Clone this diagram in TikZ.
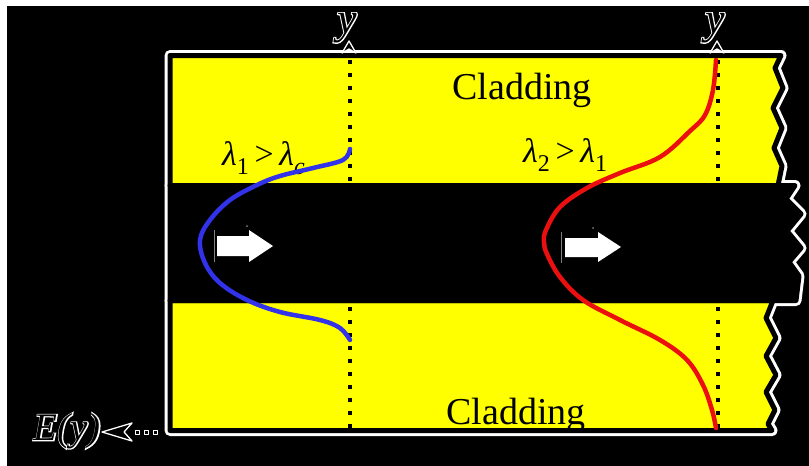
\documentclass[tikz,border=0pt]{standalone}
\usepackage{fontspec}
\setmainfont{Liberation Serif}
\newfontfamily\halofont[FakeBold=5]{Liberation Serif Italic}
\newfontfamily\plainit{Liberation Serif Italic}
\newcommand{\halotext}[1]{\makebox[0pt][l]{\color{white}\halofont #1}{\color{black}\plainit #1}}
\definecolor{clad}{RGB}{255,255,0}
\definecolor{bluecurve}{RGB}{50,50,235}
\definecolor{redcurve}{RGB}{235,15,15}
\tikzset{
  halo/.style={draw=white,line width=11pt,line join=round},
  edge/.style={draw=black,line width=5pt,line join=round},
  dots/.style={black,line width=4pt,dash pattern=on 4pt off 9pt},
  cladtext/.style={font=\fontsize{38}{40}\selectfont,text=black,inner sep=0pt},
  lamtext/.style={font=\fontsize{34}{36}\selectfont,text=black,inner sep=0pt},
  axtext/.style={font=\fontsize{44}{46}\selectfont,inner sep=0pt},
  eytext/.style={font=\fontsize{39}{41}\selectfont,inner sep=0pt},
  tipstyle/.style={fill=black,draw=white,line width=1.3pt,line join=round},
  blockarrow/.style={fill=white,draw=none},
  curve/.style={line width=4.5pt,line cap=round,line join=round}
}
\begin{document}
\begin{tikzpicture}[x=1pt,y=-1pt]
\useasboundingbox (0,0) rectangle (809,466);
\fill[white] (0,0) rectangle (809,466);
\fill[black] (7,6) rectangle (809,466);
% outlines
\def\topclad{(170,55.5) -- (781,55.5) -- (775,68) -- (783,88) -- (773,108) -- (782,128) -- (774,148) -- (782,166) -- (778,185.5) -- (170,185.5) -- cycle}
\def\core{(170,185.5) -- (795,185.5) -- (786,199) -- (801,214) -- (787,231) -- (801,248) -- (789,262) -- (799,276) -- (796,300.5) -- (170,300.5) -- cycle}
\def\botclad{(170,300.5) -- (773,300.5) -- (766,318) -- (776,338) -- (766,356) -- (776,375) -- (766,392) -- (775,410) -- (768,424) -- (772,430.5) -- (170,430.5) -- cycle}
\path[halo] \topclad;
\path[halo] \core;
\path[halo] \botclad;
\fill[black] \core;
\fill[clad] \topclad;
\fill[clad] \botclad;
% texts in cladding
\node[cladtext,anchor=base] (cladtop) at (522,99) {Cladding};
\node[cladtext,anchor=base] (cladbot) at (516,424) {Cladding};
\node[lamtext,anchor=base west] (lam1) at (222,165) {\textit{λ}\raisebox{-0.28em}{\fontsize{24}{24}\selectfont 1}\,>\,\textit{λ}\raisebox{-0.28em}{\fontsize{24}{24}\selectfont\itshape c}};
\node[lamtext,anchor=base west] (lam2) at (523,162) {\textit{λ}\raisebox{-0.28em}{\fontsize{24}{24}\selectfont 2}\,>\,\textit{λ}\raisebox{-0.28em}{\fontsize{24}{24}\selectfont 1}};
% borders
\path[edge] \topclad;
\path[edge] \core;
\path[edge] \botclad;
% dotted lines
\coordinate (d1top) at (350,60);
\coordinate (d1bot) at (350,430);
\coordinate (d2top) at (718,60);
\coordinate (d2bot) at (718,430);
\draw[dots] (d1top) -- (d1bot);
\draw[dots] (d2top) -- (d2bot);
% curves
\draw[curve,bluecurve] plot[smooth,tension=0.6] coordinates {(350,149) (343,160) (313,168) (280,176) (257,185) (230,200) (210,220) (200,240) (205,263) (220,283) (247,300) (280,312) (320,320) (340,328) (350,340)};
\draw[curve,redcurve] plot[smooth,tension=0.6] coordinates {(716,60) (713,90) (705,115) (690,131) (660,157) (620,173) (587,188) (560,207) (546,230) (544,242) (547,254) (560,277) (583,300) (620,320) (660,340) (687,360) (703,385) (712,410) (716,428)};
% block arrows in core
\draw[gray,line width=0.8pt] (214,230) -- (214,262);
\fill[gray] (247,226) circle (1pt);
\path[blockarrow] (217,236) -- (249,236) -- (249,230) -- (273,246) -- (249,262) -- (249,256) -- (217,256) -- cycle;
\draw[gray,line width=0.8pt] (561,232) -- (561,263);
\fill[gray] (593,228) circle (1pt);
\path[blockarrow] (565,238) -- (598,238) -- (598,232) -- (621,247) -- (598,262) -- (598,257) -- (565,257) -- cycle;
% axis labels
\node[axtext] (y1) at (347,28) {\halotext{y}};
\node[axtext] (y2) at (715,28) {\halotext{y}};
\path[tipstyle] (349,41) -- (356,53) -- (349,49) -- (342,53) -- cycle;
\path[tipstyle] (717,41) -- (724,53) -- (717,49) -- (710,53) -- cycle;
\node[eytext,anchor=east] (Ey) at (101,431) {\halotext{E(y)}};
\path[tipstyle] (102,432) -- (132,423) -- (124,432) -- (132,441) -- cycle;
\foreach \xx in {137,146,155} {\path[tipstyle,line width=1pt] (\xx-2,430) rectangle (\xx+2,434);}
\end{tikzpicture}
\end{document}
